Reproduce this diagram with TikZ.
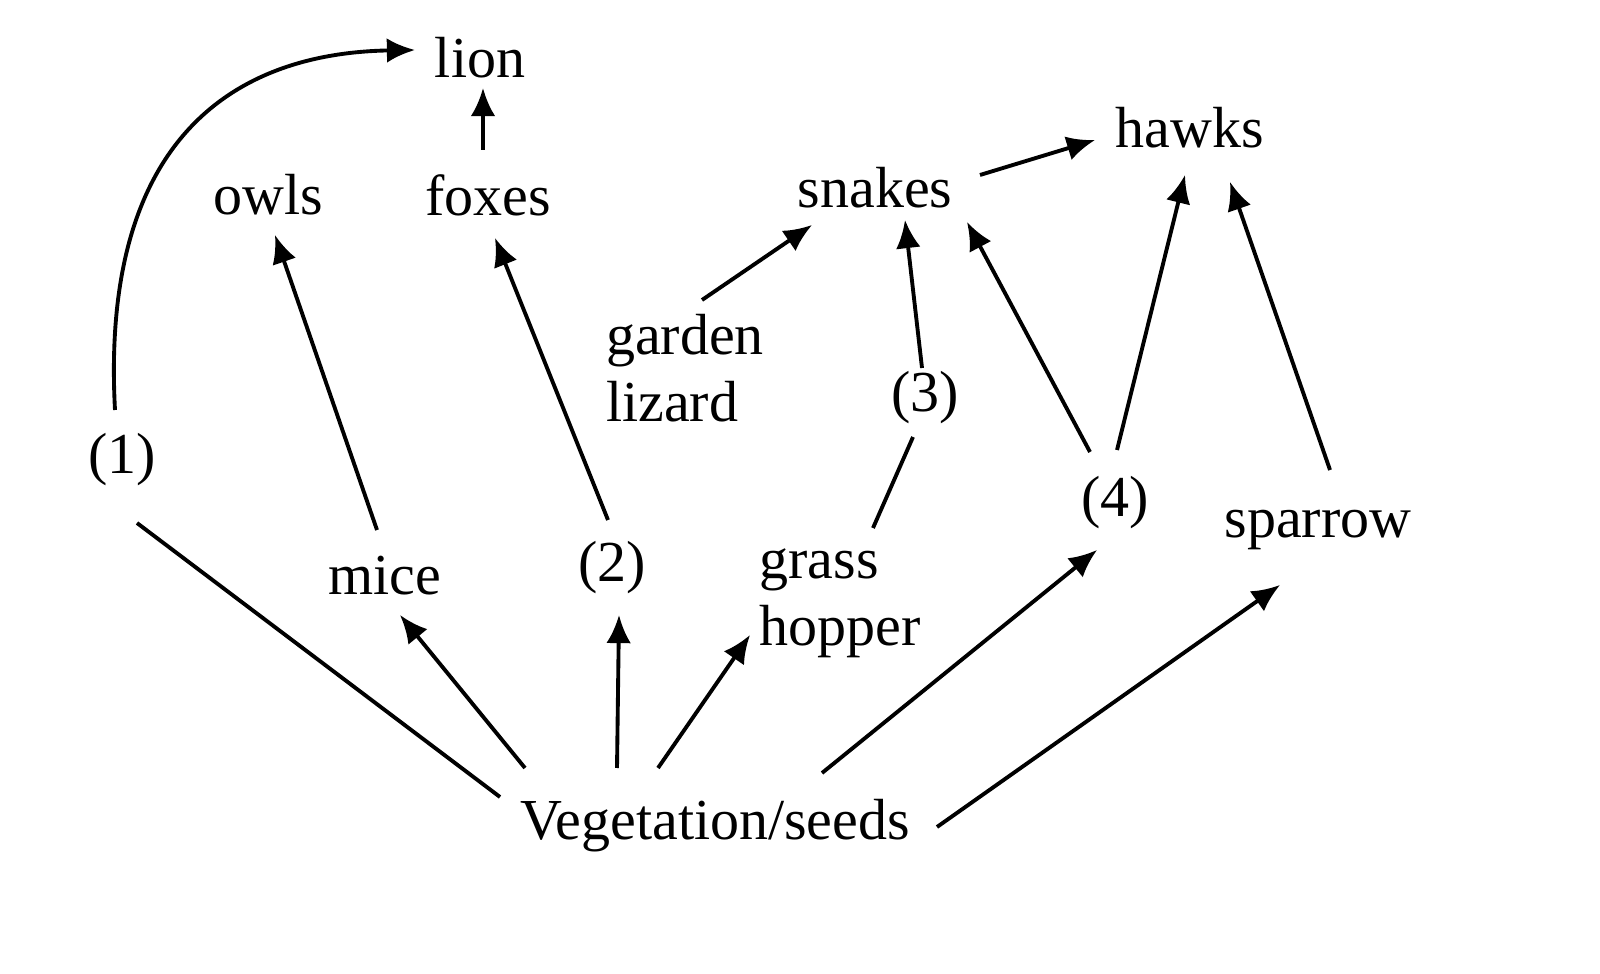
\documentclass[tikz,border=0pt]{standalone}
\usepackage{fontspec}
\setmainfont{Liberation Serif}
\usetikzlibrary{arrows.meta}
\newcommand{\txtsize}{\fontsize{16.5}{19}\selectfont}
\tikzset{
  lbl/.style = {font = \txtsize, align = left, inner sep = 1pt},
  lnk/.style = {line width = 1.1pt},
  arr/.style = {lnk, -{Latex[length=8pt, width=7pt]}}
}

\begin{document}
\begin{tikzpicture}
\useasboundingbox (0,0) rectangle (16,9.73);
\node[lbl] (lion) at (4.8,9.15) {lion};
\node[lbl] (foxes) at (4.88,7.78) {foxes};
\node[lbl] (owls) at (2.68,7.78) {owls};
\node[lbl] (snakes) at (8.75,7.85) {snakes};
\node[lbl] (hawks) at (11.9,8.45) {hawks};
\node[lbl] (lizard) at (6.85,6.05) {garden\\lizard};
\node[lbl] (n3) at (9.25,5.75) {(3)};
\node[lbl] (n1) at (1.22,5.13) {(1)};
\node[lbl] (n4) at (11.15,4.7) {(4)};
\node[lbl] (sparrow) at (13.18,4.43) {sparrow};
\node[lbl] (mice) at (3.85,3.97) {mice};
\node[lbl] (n2) at (6.12,4.05) {(2)};
\node[lbl] (grass) at (8.4,3.7) {grass\\hopper};
\node[lbl] (veg) at (7.15,1.47) {Vegetation/seeds};

\draw [lnk] ([shift={(-2.15,0.29)}]veg.center) -- ([shift={(0.15,-0.63)}]n1.center);
\draw [arr] ([shift={(-0.07,0.5)}]n1.center) .. controls (1.0,8.4) and (2.4,9.2) .. ([shift={(-0.65,0.08)}]lion.center);
\draw [arr] ([shift={(-1.9,0.58)}]veg.center) -- ([shift={(0.15,-0.39)}]mice.center);
\draw [arr] ([shift={(-0.08,0.46)}]mice.center) -- ([shift={(0.07,-0.4)}]owls.center);
\draw [arr] ([shift={(-0.98,0.58)}]veg.center) -- ([shift={(0.07,-0.47)}]n2.center);
\draw [arr] ([shift={(-0.04,0.48)}]n2.center) -- ([shift={(0.07,-0.43)}]foxes.center);
\draw [arr] ([shift={(-0.05,0.45)}]foxes.center) -- ([shift={(0.03,-0.3)}]lion.center);
\draw [arr] ([shift={(-0.57,0.58)}]veg.center) -- ([shift={(-0.9,-0.32)}]grass.center);
\draw [lnk] ([shift={(0.33,0.75)}]grass.center) -- ([shift={(-0.12,-0.39)}]n3.center);
\draw [arr] ([shift={(-0.03,0.3)}]n3.center) -- ([shift={(0.3,-0.32)}]snakes.center);
\draw [arr] ([shift={(0.17,0.68)}]lizard.center) -- ([shift={(-0.63,-0.37)}]snakes.center);
\draw [arr] ([shift={(1.05,0.13)}]snakes.center) -- ([shift={(-0.95,-0.12)}]hawks.center);
\draw [arr] ([shift={(1.07,0.53)}]veg.center) -- ([shift={(-0.18,-0.47)}]n4.center);
\draw [arr] ([shift={(-0.25,0.51)}]n4.center) -- ([shift={(0.92,-0.34)}]snakes.center);
\draw [arr] ([shift={(0.02,0.53)}]n4.center) -- ([shift={(-0.05,-0.47)}]hawks.center);
\draw [arr] ([shift={(0.12,0.6)}]sparrow.center) -- ([shift={(0.4,-0.54)}]hawks.center);
\draw [arr] ([shift={(2.22,-0.01)}]veg.center) -- ([shift={(-0.38,-0.55)}]sparrow.center);
\end{tikzpicture}
\end{document}
